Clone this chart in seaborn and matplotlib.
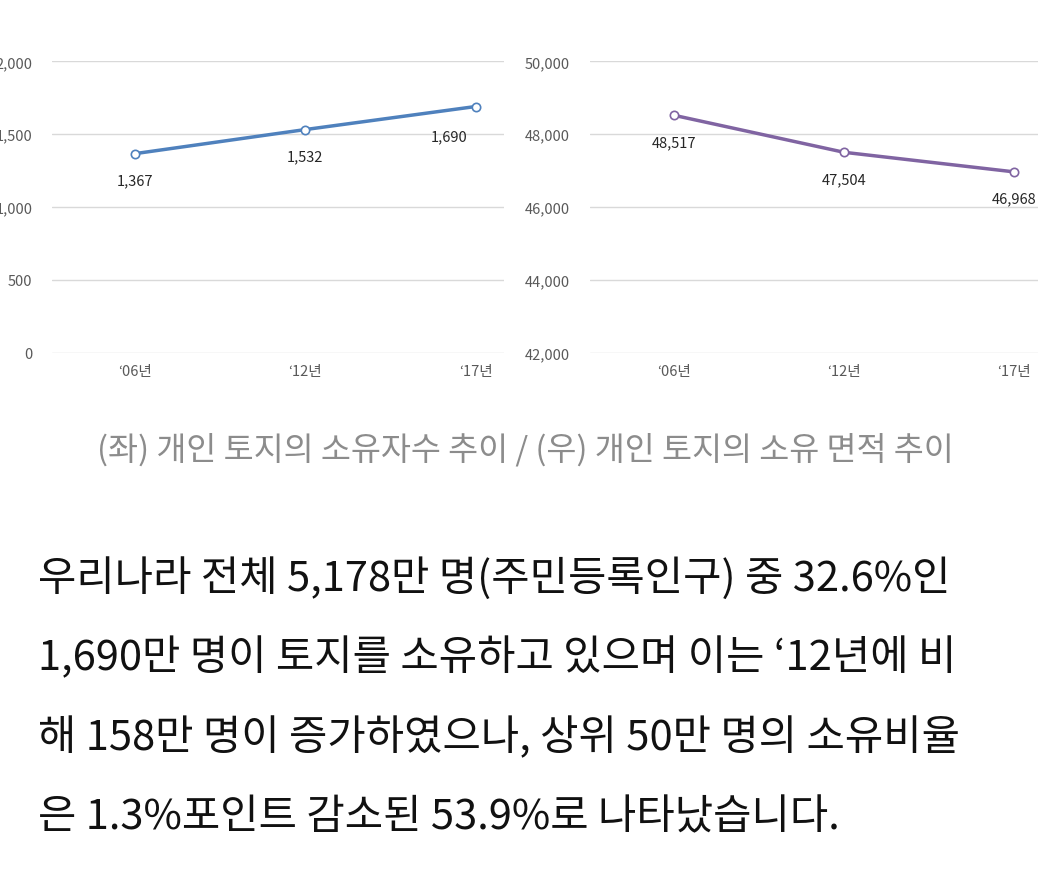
import seaborn as sns
import matplotlib.pyplot as plt
import pandas as pd

years = ["‘06년", "‘12년", "‘17년"]
owners = [1367, 1532, 1690]
area = [48517, 47504, 46968]

sns.set_style("white")
plt.rcParams['font.family'] = ['Noto Sans CJK KR', 'DejaVu Sans']

fig = plt.figure(figsize=(10.38, 8.78), dpi=100)
ax1 = fig.add_axes([0.050, 0.597, 0.436, 0.332])
ax2 = fig.add_axes([0.568, 0.597, 0.482, 0.332])

df = pd.DataFrame({"year": years, "owners": owners, "area": area})

def style(ax, ticks, fmt):
    ax.set_yticks(ticks)
    ax.set_yticklabels([fmt(t) for t in ticks], color="#595959", fontsize=10.5)
    ax.set_ylim(ticks[0], ticks[-1])
    ax.grid(axis="y", color="#d9d9d9", linewidth=1)
    for s in ax.spines.values():
        s.set_visible(False)
    ax.tick_params(axis="both", length=0, pad=14)
    ax.tick_params(axis="x", labelsize=10.5, labelcolor="#595959", pad=8)
    ax.set_xlabel("")
    ax.set_ylabel("")

sns.lineplot(data=df, x="year", y="owners", ax=ax1, color="#4f81bd", linewidth=2.5,
             marker="o", markersize=6, markerfacecolor="white", markeredgecolor="#4f81bd",
             markeredgewidth=1.2)
ax1.set_xlim(-0.49, 2.17)
style(ax1, [0, 500, 1000, 1500, 2000], lambda t: f"{t:,}")
for i, v in enumerate(owners):
    if i == 2:
        ax1.annotate(f"{v:,}", (i, v), xytext=(-6, -24), textcoords="offset points",
                     ha="right", fontsize=10.5, color="#262626")
    else:
        ax1.annotate(f"{v:,}", (i, v), xytext=(0, -22), textcoords="offset points",
                     ha="center", fontsize=10.5, color="#262626")

sns.lineplot(data=df, x="year", y="area", ax=ax2, color="#8064a2", linewidth=2.5,
             marker="o", markersize=6, markerfacecolor="white", markeredgecolor="#8064a2",
             markeredgewidth=1.2)
ax2.set_xlim(-0.5, 2.45)
style(ax2, [42000, 44000, 46000, 48000, 50000], lambda t: f"{t:,}")
for i, v in enumerate(area):
    ax2.annotate(f"{v:,}", (i, v), xytext=(0, -22), textcoords="offset points",
                 ha="center", fontsize=10.5, color="#262626")

fig.text(0.506, 1 - 450 / 878, "(좌) 개인 토지의 소유자수 추이 / (우) 개인 토지의 소유 면적 추이",
         ha="center", va="center", fontsize=23.5, color="#8c8c8c")

body = ["우리나라 전체 5,178만 명(주민등록인구) 중 32.6%인",
        "1,690만 명이 토지를 소유하고 있으며 이는 ‘12년에 비",
        "해 158만 명이 증가하였으나, 상위 50만 명의 소유비율",
        "은 1.3%포인트 감소된 53.9%로 나타났습니다."]
for k, line in enumerate(body):
    fig.text(38 / 1038, 1 - (578 + 80 * k) / 878, line, ha="left", va="center",
             fontsize=30, color="#111111")

fig.savefig("out.png", dpi=100)
